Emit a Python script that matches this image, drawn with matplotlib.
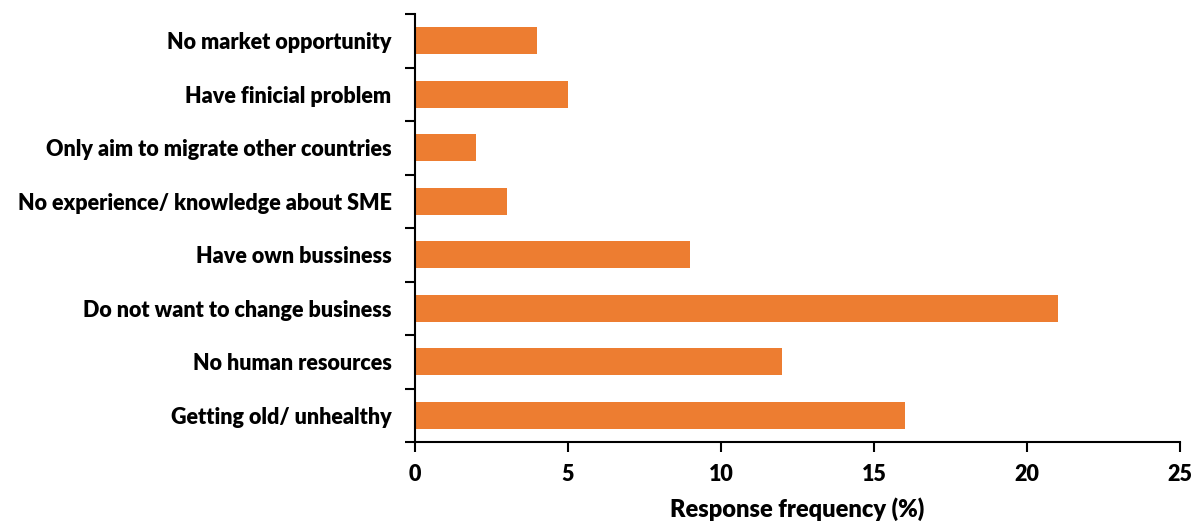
import matplotlib
matplotlib.use("Agg")
import matplotlib.pyplot as plt
import numpy as np

categories = [
    "Getting old/ unhealthy",
    "No human resources",
    "Do not want to change business",
    "Have own bussiness",
    "No experience/ knowledge about SME",
    "Only aim to migrate other countries",
    "Have finicial problem",
    "No market opportunity",
]
values = [16, 12, 21, 9, 3, 2, 5, 4]
x_ticks = [0, 5, 10, 15, 20, 25]

plt.rcParams["font.family"] = ["Lato", "DejaVu Sans"]
plt.rcParams["font.weight"] = "bold"

fig = plt.figure(figsize=(11.93, 5.24), dpi=100)
ax = fig.add_axes([415 / 1193, 1 - 442 / 524, (1180 - 415) / 1193, (442 - 14) / 524])

y = np.arange(len(categories))
ax.barh(y, values, height=0.5, color="#ED7D31")

ax.set_xlim(0, 25)
ax.set_ylim(-0.5, len(categories) - 0.5)
ax.set_xticks(x_ticks)
ax.set_xticklabels([str(t) for t in x_ticks], fontsize=15.5, fontweight="heavy")

# category labels without tick marks; ticks sit on category boundaries
ax.set_yticks(y)
ax.set_yticklabels(categories, fontsize=15.5, fontweight="heavy")
ax.tick_params(axis="y", length=0, pad=17)
ax.set_yticks(np.arange(-0.5, len(categories), 1), minor=True)
ax.tick_params(axis="y", which="minor", length=7, width=1.5, direction="out")
ax.tick_params(axis="x", length=7, width=1.5, direction="out", pad=9)

for side in ("top", "right"):
    ax.spines[side].set_visible(False)
for side in ("left", "bottom"):
    ax.spines[side].set_linewidth(1.5)

ax.set_xlabel("Response frequency (%)", fontsize=17, fontweight="heavy", labelpad=9)

fig.savefig("out.png", dpi=100)
